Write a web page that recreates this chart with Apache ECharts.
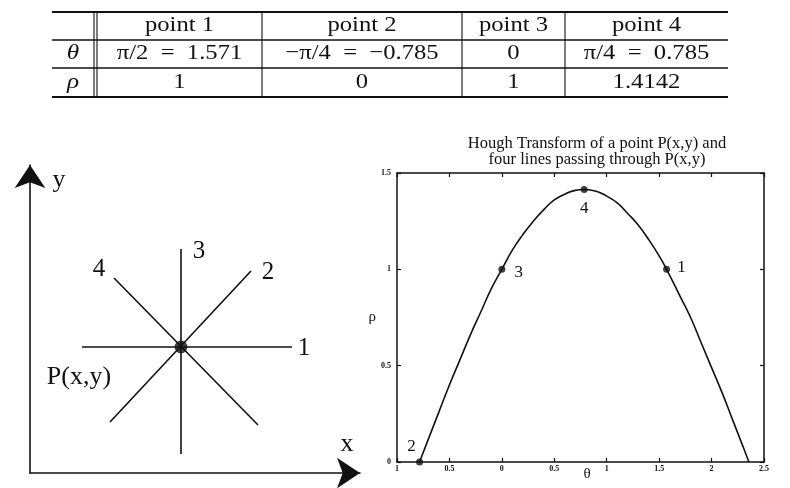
<!DOCTYPE html>
<html>
<head>
<meta charset="utf-8">
<script src="https://cdn.jsdelivr.net/npm/echarts@6/dist/echarts.min.js"></script>
<style>html,body{margin:0;padding:0;background:#fff}#c{width:790px;height:488px}</style>
</head>
<body>
<div id="c"></div>
<script>
// ---------- data ----------
const tableHeader = ['', 'point 1', 'point 2', 'point 3', 'point 4'];
const tableTheta = ['θ', 'π/2\u2002=\u20021.571', '−π/4\u2002=\u2002−0.785', '0', 'π/4\u2002=\u20020.785'];
const tableRho = ['ρ', '1', '0', '1', '1.4142'];

// Hough plot
const xTickLabels = ['1', '0.5', '0', '0.5', '1', '1.5', '2', '2.5'];
const yTickLabels = ['0', '0.5', '1', '1.5'];
const curveTheta = [-0.785, -0.7, -0.6, -0.5, -0.4, -0.3, -0.2, -0.1, 0, 0.1, 0.2, 0.3, 0.4, 0.5, 0.6, 0.7, 0.785, 0.9, 1.0, 1.1, 1.2, 1.3, 1.4, 1.5, 1.571, 1.7, 1.8, 1.9, 2.0, 2.1, 2.2, 2.3, 2.356];
const curveRho = [0, 0.12, 0.26, 0.40, 0.53, 0.66, 0.78, 0.90, 1.0, 1.10, 1.18, 1.25, 1.31, 1.36, 1.39, 1.41, 1.414, 1.405, 1.38, 1.345, 1.29, 1.23, 1.155, 1.07, 1.0, 0.86, 0.75, 0.62, 0.49, 0.36, 0.22, 0.08, 0];
const pointNames = ['1', '2', '3', '4'];
const pointTheta = [1.571, -0.785, 0, 0.785];
const pointRho = [1, 0, 1, 1.4142];

// Left diagram (units along x / y axes)
const diagP = [151, 126];
const diagLineNames = ['1', '2', '3', '4'];
const diagLine1 = [[52, 126], [262, 126]];
const diagLine2 = [[80, 51], [221, 202]];
const diagLine3 = [[151, 19], [151, 224]];
const diagLine4 = [[228, 48], [84, 195]];

// ---------- layout / styles ----------
const SERIF = '"Liberation Serif", "Times New Roman", serif';
const INK = '#111';
const diagLabelOffsets = [[12, 1], [17, 1], [18, 2], [-15, -9]];
const pointLabelOffsets = [[15, -2], [-8, -15], [17, 3], [0, 19]];

function txt(x, y, text, size, family, extra) {
  return Object.assign({type: 'text', x: x, y: y,
    style: {text: text, fontFamily: family, fontSize: size, fill: INK,
      align: 'center', verticalAlign: 'middle', textAlign: 'center', textVerticalAlign: 'middle'}}, extra || {});
}

// table graphic
const colEdges = [52, 97, 262, 462, 565, 728];
const rowEdges = [12, 40, 68, 97];
const tableRows = [tableHeader, tableTheta, tableRho];
const graphic = [];
rowEdges.forEach((y, i) => {
  const outer = (i === 0 || i === rowEdges.length - 1);
  graphic.push({type: 'line', shape: {x1: colEdges[0], y1: y, x2: colEdges[colEdges.length - 1], y2: y},
    style: {stroke: INK, lineWidth: outer ? 2 : 1.3}});
});
[94, 97, 262, 462, 565].forEach(x => {
  graphic.push({type: 'line', shape: {x1: x, y1: rowEdges[0], x2: x, y2: rowEdges[rowEdges.length - 1]},
    style: {stroke: INK, lineWidth: 1.1}});
});
const colCenters = [73, 179.5, 362, 513.5, 646.5];
tableRows.forEach((row, r) => {
  const cy = (rowEdges[r] + rowEdges[r + 1]) / 2 - 0.5;
  row.forEach((t, c) => {
    if (!t) return;
    const el = txt(colCenters[c], cy, t, 22, SERIF, {scaleX: c === 0 ? 1.2 : 1.12});
    if (c === 0) { el.style.fontStyle = 'italic'; el.style.fontSize = 21; }
    graphic.push(el);
  });
});
// diagram axis letters
graphic.push(txt(59, 180, 'y', 26, SERIF));
graphic.push(txt(347, 444, 'x', 26, SERIF));

const labelBase = {position: 'inside', fontFamily: SERIF, color: INK, align: 'center', verticalAlign: 'middle',
  textBorderWidth: 0, textBorderColor: 'transparent', opacity: 1};

const diagLines = [diagLine1, diagLine2, diagLine3, diagLine4];
const diagSeries = diagLines.map((seg, i) => ({
  type: 'line', xAxisIndex: 0, yAxisIndex: 0, silent: true, animation: false,
  showSymbol: true, symbolSize: 0, symbol: 'circle',
  lineStyle: {color: INK, width: 1.6},
  itemStyle: {color: INK},
  data: seg.map((p, j) => j === seg.length - 1 ? {value: p, label: Object.assign({show: true, formatter: diagLineNames[i],
    offset: diagLabelOffsets[i], fontSize: 25}, labelBase)} : {value: p})
}));

const option = {
  animation: false,
  backgroundColor: '#fff',
  title: {
    text: 'Hough Transform of a point P(x,y) and\nfour lines passing through P(x,y)',
    left: 592, top: 131, textAlign: 'center',
    textStyle: {fontFamily: SERIF, fontSize: 16.5, fontWeight: 'normal', color: INK, lineHeight: 16}
  },
  graphic: graphic,
  grid: [
    {left: 30, top: 165, width: 330, height: 308, containLabel: false, outerBoundsMode: 'none'},
    {left: 397, top: 173, width: 367, height: 289, containLabel: false, outerBoundsMode: 'none'}
  ],
  xAxis: [
    {gridIndex: 0, type: 'value', min: 0, max: 330, axisLine: {show: true, lineStyle: {color: INK, width: 1.6}, symbol: ['none', 'arrow'], symbolSize: [23, 23]},
      axisTick: {show: false}, axisLabel: {show: false}, splitLine: {show: false}},
    {gridIndex: 1, type: 'value', min: -1, max: 2.5, interval: 0.5, position: 'bottom',
      axisLine: {onZero: false, lineStyle: {color: INK, width: 1.5}},
      axisTick: {inside: true, length: 4, lineStyle: {color: INK, width: 1.2}},
      axisLabel: {margin: 3, fontFamily: SERIF, fontSize: 8, fontWeight: 'bold', color: INK, formatter: (v, i) => xTickLabels[i]},
      splitLine: {show: false},
      name: 'θ', nameLocation: 'middle', nameGap: 5, nameMoveOverlap: false,
      nameTextStyle: {fontFamily: SERIF, fontSize: 15, color: INK, padding: [0, 0, 0, 13]}},
    {gridIndex: 1, type: 'value', min: -1, max: 2.5, interval: 0.5, position: 'top',
      axisLine: {onZero: false, lineStyle: {color: INK, width: 1.5}},
      axisTick: {inside: true, length: 4, lineStyle: {color: INK, width: 1.2}},
      axisLabel: {show: false}, splitLine: {show: false}}
  ],
  yAxis: [
    {gridIndex: 0, type: 'value', min: 0, max: 308, axisLine: {show: true, lineStyle: {color: INK, width: 1.6}, symbol: ['none', 'arrow'], symbolSize: [23, 23]},
      axisTick: {show: false}, axisLabel: {show: false}, splitLine: {show: false}},
    {gridIndex: 1, type: 'value', min: 0, max: 1.5, interval: 0.5, position: 'left',
      axisLine: {show: true, onZero: false, lineStyle: {color: INK, width: 1.5}},
      axisTick: {show: true, inside: true, length: 4, lineStyle: {color: INK, width: 1.2}},
      axisLabel: {margin: 6, fontFamily: SERIF, fontSize: 8, fontWeight: 'bold', color: INK, formatter: (v, i) => yTickLabels[i]},
      splitLine: {show: false},
      name: 'ρ', nameLocation: 'middle', nameRotate: 0, nameGap: 21, nameMoveOverlap: false,
      nameTextStyle: {fontFamily: SERIF, fontSize: 15, color: INK}},
    {gridIndex: 1, type: 'value', min: 0, max: 1.5, interval: 0.5, position: 'right',
      axisLine: {show: true, onZero: false, lineStyle: {color: INK, width: 1.5}},
      axisTick: {show: true, inside: true, length: 4, lineStyle: {color: INK, width: 1.2}},
      axisLabel: {show: false}, splitLine: {show: false}}
  ],
  series: diagSeries.concat([
    {type: 'scatter', xAxisIndex: 0, yAxisIndex: 0, silent: true, symbolSize: 13,
      itemStyle: {color: INK},
      data: [{value: diagP, label: Object.assign({show: true, formatter: 'P(x,y)', offset: [-102, 30], fontSize: 26}, labelBase)}]},
    {type: 'line', xAxisIndex: 1, yAxisIndex: 1, silent: true, smooth: 0.5, showSymbol: false,
      lineStyle: {color: INK, width: 1.6},
      data: curveTheta.map((t, i) => [t, curveRho[i]])},
    {type: 'scatter', xAxisIndex: 1, yAxisIndex: 1, silent: true, symbolSize: 7,
      itemStyle: {color: INK},
      data: pointTheta.map((t, i) => ({value: [t, pointRho[i]], label: Object.assign({show: true, formatter: pointNames[i],
        offset: pointLabelOffsets[i], fontSize: 17}, labelBase)}))}
  ])
};
const chart = echarts.init(document.getElementById('c'), null, {renderer: 'canvas'});
chart.setOption(option);
</script>
</body>
</html>
